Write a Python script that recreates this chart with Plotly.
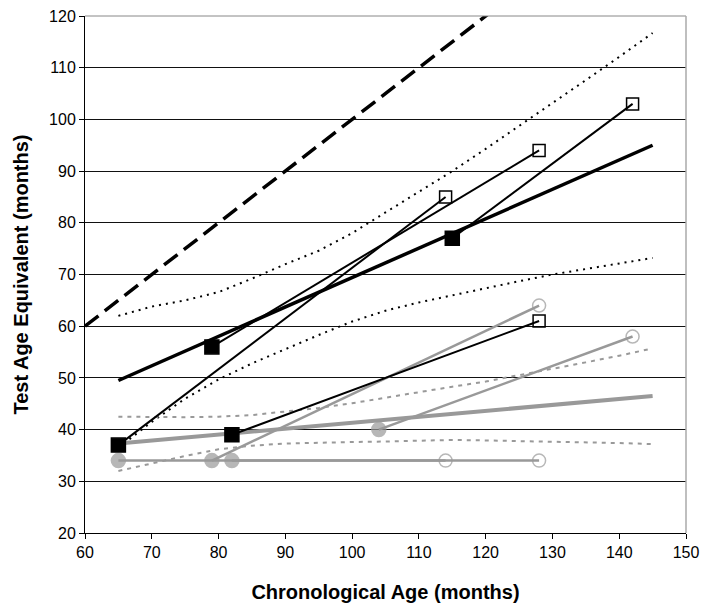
import plotly.graph_objects as go

# ---- data ----
black_t1_x = [65, 79, 82, 115]
black_t1_y = [37, 56, 39, 77]
black_t2_x = [114, 128, 128, 142]
black_t2_y = [85, 94, 61, 103]

gray_t1_x = [65, 79, 82, 104]
gray_t1_y = [34, 34, 34, 40]
gray_t2_x = [114, 128, 128, 142]
gray_t2_y = [34, 64, 34, 58]

fit_x = [65, 145]
black_fit_y = [49.5, 95]
gray_fit_y = [37.3, 46.5]

band_x = [65, 70, 75, 80, 85, 90, 95, 100, 105, 110, 115, 120, 125, 130, 135, 140, 145]
black_upper = [62, 63.8, 65, 66.6, 69.2, 72, 74.6, 78, 82, 86, 90, 94.3, 98.7, 103.2, 107.6, 112.1, 116.7]
black_lower = [36.5, 41.5, 46, 49.7, 52.8, 55.6, 58.3, 60.9, 63, 64.6, 66, 67.4, 68.7, 70, 71.1, 72.2, 73.2]
gray_upper = [42.5, 42.4, 42.4, 42.5, 42.8, 43.5, 44.2, 45.1, 46.2, 47.3, 48.3, 49.3, 50.5, 51.7, 53, 54.3, 55.7]
gray_lower = [32, 33.5, 34.9, 36.2, 36.9, 37.3, 37.5, 37.6, 37.7, 37.9, 38, 37.9, 37.8, 37.7, 37.5, 37.4, 37.2]

identity_x = [60, 130]
identity_y = [60, 130]

x_ticks = [60, 70, 80, 90, 100, 110, 120, 130, 140, 150]
y_ticks = [20, 30, 40, 50, 60, 70, 80, 90, 100, 110, 120]

BLACK = "#000000"
GRAY = "#999999"

fig = go.Figure()

# identity dashed line
fig.add_trace(go.Scatter(x=identity_x, y=identity_y, mode="lines",
                         line=dict(color=BLACK, width=3.5, dash="17px,8px"),
                         showlegend=False, hoverinfo="skip"))

# bands
fig.add_trace(go.Scatter(x=band_x, y=black_upper, mode="lines",
                         line=dict(color=BLACK, width=2, dash="2px,5px"), showlegend=False))
fig.add_trace(go.Scatter(x=band_x, y=black_lower, mode="lines",
                         line=dict(color=BLACK, width=2, dash="2px,5px"), showlegend=False))
fig.add_trace(go.Scatter(x=band_x, y=gray_upper, mode="lines",
                         line=dict(color=GRAY, width=2, dash="4px,5px"), showlegend=False))
fig.add_trace(go.Scatter(x=band_x, y=gray_lower, mode="lines",
                         line=dict(color=GRAY, width=2, dash="4px,5px"), showlegend=False))

# fitted lines
fig.add_trace(go.Scatter(x=fit_x, y=gray_fit_y, mode="lines",
                         line=dict(color=GRAY, width=4), showlegend=False))
fig.add_trace(go.Scatter(x=fit_x, y=black_fit_y, mode="lines",
                         line=dict(color=BLACK, width=3.5), showlegend=False))

# gray individuals
for x1, y1, x2, y2 in zip(gray_t1_x, gray_t1_y, gray_t2_x, gray_t2_y):
    fig.add_trace(go.Scatter(x=[x1, x2], y=[y1, y2], mode="lines+markers",
                             line=dict(color=GRAY, width=2.5),
                             marker=dict(symbol=["circle", "circle-open"], size=[14, 13],
                                         color=GRAY, line=dict(color=GRAY, width=1.5)),
                             showlegend=False))

# black individuals
for x1, y1, x2, y2 in zip(black_t1_x, black_t1_y, black_t2_x, black_t2_y):
    fig.add_trace(go.Scatter(x=[x1, x2], y=[y1, y2], mode="lines+markers",
                             line=dict(color=BLACK, width=2),
                             marker=dict(symbol=["square", "square-open"], size=[14, 12],
                                         color=BLACK, opacity=1,
                                         line=dict(color=BLACK, width=1.5)),
                             showlegend=False))

axis_font = dict(family="Liberation Sans, Arial, sans-serif", size=16, color="black")
title_font = dict(family="Liberation Sans, Arial, sans-serif", size=20, color="black")

fig.update_layout(
    width=702, height=613,
    margin=dict(l=85, r=16, t=16, b=80),
    paper_bgcolor="white", plot_bgcolor="white",
    showlegend=False,
    xaxis=dict(range=[60, 150], tickvals=x_ticks, ticktext=[str(v) for v in x_ticks],
               showgrid=False, zeroline=False, showline=True, linecolor="black", linewidth=1,
               ticks="outside", ticklen=5, tickcolor="black", tickfont=axis_font,
               automargin=False,
               title=dict(text="<b>Chronological Age (months)</b>", font=title_font, standoff=24)),
    yaxis=dict(range=[20, 120], tickvals=y_ticks, ticktext=[str(v) for v in y_ticks],
               showgrid=True, gridcolor="#111111", gridwidth=1,
               zeroline=False, showline=True, linecolor="black", linewidth=1,
               ticks="outside", ticklen=5, tickcolor="black", tickfont=axis_font,
               automargin=False,
               title=dict(text="<b>Test Age Equivalent (months)</b>", font=title_font, standoff=15)),
    shapes=[
        dict(type="line", xref="paper", yref="paper", x0=0, x1=1, y0=1, y1=1,
             line=dict(color="#888888", width=1)),
        dict(type="line", xref="paper", yref="paper", x0=1, x1=1, y0=0, y1=1,
             line=dict(color="#aaaaaa", width=1.5)),
    ],
)

fig.write_html("out.html", config={"displayModeBar": False},
               post_script="document.body.style.margin='0';document.body.style.overflow='hidden';")
